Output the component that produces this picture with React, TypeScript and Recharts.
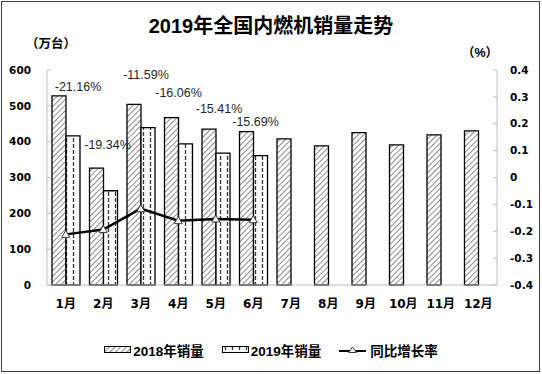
import { ComposedChart, Bar, Line, XAxis, YAxis, Legend, LabelList } from "recharts";

/* ── data ── */

const MONTHS = ["1月", "2月", "3月", "4月", "5月", "6月", "7月", "8月", "9月", "10月", "11月", "12月"];
const SALES_2018 = [528, 326, 504, 467, 435, 428, 408, 388, 425, 391, 419, 430];
const SALES_2019 = [416, 263, 439, 394, 368, 361];
const GROWTH = [-0.2116, -0.1934, -0.1159, -0.1606, -0.1541, -0.1569];
const LEFT_TICKS = [0, 100, 200, 300, 400, 500, 600];
const RIGHT_TICKS = [-0.4, -0.3, -0.2, -0.1, 0, 0.1, 0.2, 0.3, 0.4];

// hand-placed growth labels: nudges from the 2018 bar's right edge / top
const LABEL_DX = [12, 4, 5, 0, 3, 2];
const LABEL_DY = [-9, -23, -29, -25, -20, -10];

const data = MONTHS.map((month, i) => ({
  month,
  s2018: SALES_2018[i],
  s2019: SALES_2019[i] ?? null,
  growth: GROWTH[i] ?? null,
}));

const SANS = "'Liberation Sans', 'Noto Sans CJK SC', sans-serif";
const AXIS_FONT = "'DejaVu Sans', 'Noto Sans CJK SC', sans-serif";
const AXIS_GRAY = "#bfbfbf";

/* ── custom pieces ── */

function GrowthLabel(props: any) {
  const { x, y, width, value, index } = props;
  if (value == null || x == null) return null;
  const cx = Number(x) + Number(width) + (LABEL_DX[index] ?? 0);
  const cy = Number(y) + (LABEL_DY[index] ?? -10);
  return (
    <text
      x={cx}
      y={cy}
      textAnchor="middle"
      dominantBaseline="central"
      fontFamily={SANS}
      fontSize={12.5}
      fill="#262626"
    >
      {(value * 100).toFixed(2) + "%"}
    </text>
  );
}

function TriangleDot(props: any) {
  const { cx, cy, index } = props;
  if (cx == null || cy == null) return <g key={index} />;
  const s = 4;
  return (
    <path
      key={index}
      d={`M${cx},${cy - s} L${cx + s},${cy + s * 0.75} L${cx - s},${cy + s * 0.75} Z`}
      fill="#fff"
      stroke="#404040"
      strokeWidth={1}
    />
  );
}

function renderLegend() {
  const item = { display: "flex", alignItems: "center" } as const;
  return (
    <div
      style={{
        display: "flex",
        justifyContent: "center",
        alignItems: "center",
        height: 20,
        gap: 18,
        fontFamily: SANS,
        fontSize: 13.5,
        fontWeight: 700,
        color: "#000",
      }}
    >
      <span style={item}>
        <svg width={28} height={8} style={{ marginRight: 1 }}>
          <rect x={0.5} y={0.5} width={26} height={6} fill="url(#hatch18)" stroke="#000" />
        </svg>
        2018年销量
      </span>
      <span style={item}>
        <svg width={28} height={8} style={{ marginRight: 1 }}>
          <rect x={0.5} y={0.5} width={26} height={6} fill="url(#dash19)" stroke="#000" />
        </svg>
        2019年销量
      </span>
      <span style={item}>
        <svg width={28} height={10} style={{ marginRight: 3 }}>
          <line x1={0} y1={6} x2={27} y2={6} stroke="#000" strokeWidth={2} />
          <path d="M13.5,2 L17.5,7.5 L9.5,7.5 Z" fill="#fff" stroke="#404040" strokeWidth={1} />
        </svg>
        同比增长率
      </span>
    </div>
  );
}

/* ── chart ── */

export default function App() {
  return (
    <div style={{ position: "absolute", left: 0, top: 0, width: 542, height: 374, background: "#fff" }}>
      <div
        style={{
          position: "absolute",
          left: 1,
          top: 1,
          width: 539,
          height: 371,
          border: "1px solid #404040",
          boxSizing: "border-box",
          pointerEvents: "none",
        }}
      />
      <ComposedChart
        width={542}
        height={374}
        data={data}
        margin={{ top: 70, right: 0, bottom: 14, left: 0 }}
        barGap={0}
        barSize={14}
      >
        <defs>
          <pattern id="hatch18" width={4} height={4} patternUnits="userSpaceOnUse" patternTransform="rotate(45)">
            <rect width={4} height={4} fill="#fff" />
            <line x1={0} y1={0} x2={0} y2={4} stroke="#8c8c8c" strokeWidth={2} />
          </pattern>
          <pattern id="dash19" width={7} height={6} patternUnits="userSpaceOnUse">
            <rect width={7} height={6} fill="#fff" />
            <line x1={3.5} y1={0} x2={3.5} y2={4} stroke="#333" strokeWidth={1.3} />
          </pattern>
        </defs>

        <text x={271} y={33} textAnchor="middle" fontFamily={SANS} fontSize={20} fontWeight={700} fill="#000">
          2019年全国内燃机销量走势
        </text>
        <text x={51} y={48} textAnchor="middle" fontFamily={SANS} fontSize={12.5} fontWeight={700} fill="#000">
          （万台）
        </text>
        <text x={480} y={57} textAnchor="middle" fontFamily={SANS} fontSize={12.5} fontWeight={700} fill="#000">
          （%）
        </text>

        <XAxis
          dataKey="month"
          interval={0}
          height={55}
          axisLine={{ stroke: AXIS_GRAY }}
          tickLine={false}
          tickSize={0}
          tickMargin={14}
          tick={{ fill: "#000", fontSize: 12, fontWeight: 700, fontFamily: AXIS_FONT }}
        />
        <YAxis
          yAxisId="left"
          domain={[0, 600]}
          ticks={LEFT_TICKS}
          width={47}
          axisLine={{ stroke: AXIS_GRAY }}
          tickLine={{ stroke: AXIS_GRAY }}
          tickSize={-4}
          tickMargin={20}
          tick={{ fill: "#000", fontSize: 10.5, fontWeight: 700, fontFamily: AXIS_FONT }}
        />
        <YAxis
          yAxisId="right"
          orientation="right"
          domain={[-0.4, 0.4]}
          ticks={RIGHT_TICKS}
          width={45}
          axisLine={{ stroke: AXIS_GRAY }}
          tickLine={{ stroke: AXIS_GRAY }}
          tickSize={-4}
          tickMargin={17}
          tickFormatter={(v: number) => String(Number(v.toFixed(1)))}
          tick={{ fill: "#000", fontSize: 10.5, fontWeight: 700, fontFamily: AXIS_FONT }}
        />

        <Legend verticalAlign="bottom" content={renderLegend} />

        <Bar
          yAxisId="left"
          dataKey="s2018"
          name="2018年销量"
          fill="url(#hatch18)"
          stroke="#000"
          strokeWidth={1.3}
          isAnimationActive={false}
        >
          <LabelList dataKey="growth" content={GrowthLabel} />
        </Bar>
        <Bar
          yAxisId="left"
          dataKey="s2019"
          name="2019年销量"
          fill="url(#dash19)"
          stroke="#000"
          strokeWidth={1.3}
          isAnimationActive={false}
        />
        <Line
          yAxisId="right"
          dataKey="growth"
          name="同比增长率"
          stroke="#000"
          strokeWidth={2.5}
          dot={TriangleDot}
          activeDot={false}
          isAnimationActive={false}
        />
      </ComposedChart>
    </div>
  );
}
